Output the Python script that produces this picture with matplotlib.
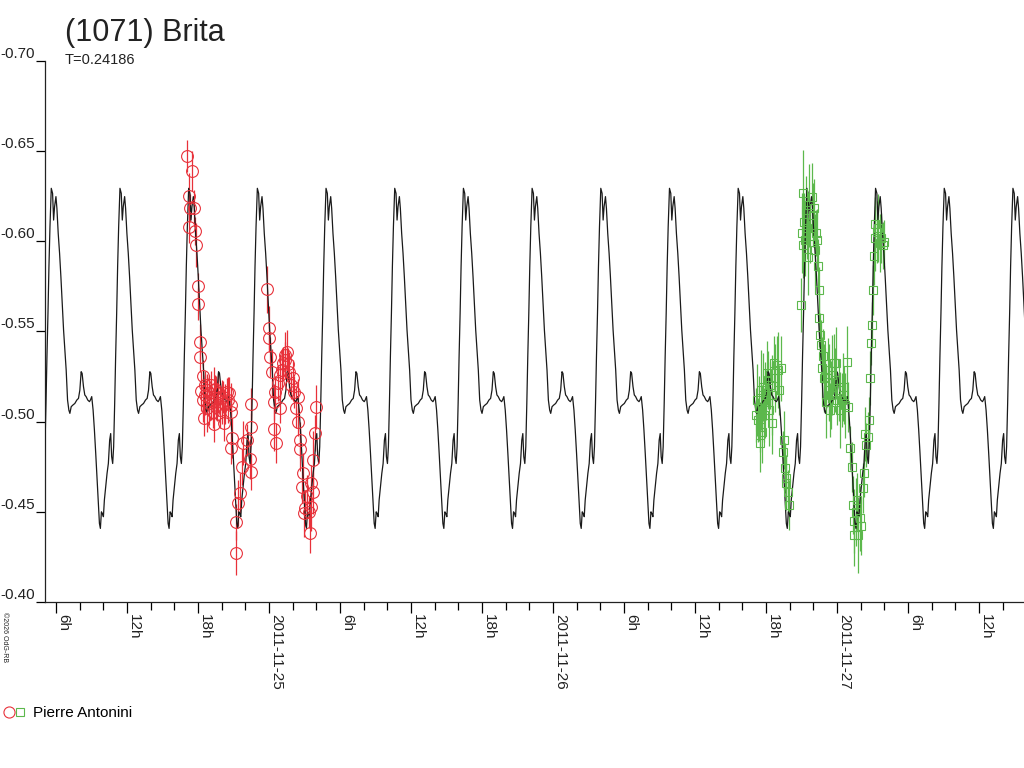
import numpy as np
import matplotlib
matplotlib.use('Agg')
import matplotlib.pyplot as plt
from matplotlib.lines import Line2D
from matplotlib.legend_handler import HandlerTuple

plt.rcParams['font.family'] = ['Liberation Sans', 'DejaVu Sans']

# time in hours since 2011-11-24 00:00 UT, magnitudes relative
period_h = 0.24186 * 24
epoch_h = 5.6

# one period of the model light curve (phase, mag)
model_phase = [0.000, 0.019, 0.034, 0.048, 0.068, 0.082, 0.101, 0.121, 0.140, 0.159,
               0.179, 0.198, 0.217, 0.237, 0.256, 0.271, 0.290, 0.314, 0.343, 0.372,
               0.396, 0.416, 0.435, 0.449, 0.469, 0.488, 0.507, 0.531, 0.556, 0.570,
               0.589, 0.609, 0.628, 0.647, 0.667, 0.686, 0.701, 0.715, 0.730, 0.744,
               0.759, 0.773, 0.792, 0.812, 0.831, 0.850, 0.865, 0.879, 0.894, 0.908,
               0.923, 0.937, 0.952, 0.966, 0.981]
model_mag = [-0.6294, -0.6266, -0.6118, -0.6192, -0.6248, -0.6183, -0.6044, -0.5933, -0.5804, -0.5656,
             -0.5508, -0.5397, -0.5286, -0.5120, -0.5064, -0.5046, -0.5083, -0.5092, -0.5101, -0.5120,
             -0.5129, -0.5175, -0.5277, -0.5268, -0.5194, -0.5148, -0.5139, -0.5120, -0.5111, -0.5120,
             -0.5139, -0.5064, -0.4954, -0.4825, -0.4677, -0.4528, -0.4436, -0.4408, -0.4500, -0.4491,
             -0.4473, -0.4565, -0.4639, -0.4713, -0.4768, -0.4898, -0.4934, -0.4806, -0.4768, -0.4861,
             -0.5101, -0.5360, -0.5601, -0.5859, -0.6081]

# session 1 (red circles)
red_t = [17.11, 17.45, 17.20, 17.32, 17.66, 17.24, 17.75, 17.83, 17.96, 18.04,
         18.13, 18.17, 18.25, 18.38, 18.42, 18.51, 18.55, 18.63, 18.72, 18.80,
         18.89, 18.97, 19.06, 19.14, 19.23, 19.31, 19.35, 19.44, 19.52, 19.61,
         19.73, 19.82, 19.90, 19.99, 20.11, 20.16, 20.28, 20.41, 20.54, 20.66,
         20.75, 20.83, 20.87, 20.83, 21.21, 21.25, 21.42, 21.55, 21.68, 21.84,
         22.10, 22.39, 22.44, 22.44, 22.52, 23.87, 23.96, 24.04, 24.08, 24.25,
         24.38, 24.38, 24.51, 24.63, 24.76, 24.89, 24.97, 25.06, 25.18, 25.31,
         25.39, 25.48, 25.61, 25.73, 25.86, 26.03, 26.15, 26.32, 26.45, 26.49,
         26.66, 26.66, 26.75, 26.87, 26.92, 27.04, 27.17, 27.34, 27.47, 27.55,
         27.59, 27.68, 27.72, 27.89, 27.97]
red_mag = [-0.6473, -0.6390, -0.6251, -0.6185, -0.6185, -0.6079, -0.6057, -0.5979, -0.5752, -0.5652,
           -0.5442, -0.5358, -0.5170, -0.5253, -0.5120, -0.5020, -0.5203, -0.5148, -0.5075, -0.5175,
           -0.5159, -0.5103, -0.5203, -0.5120, -0.5053, -0.5175, -0.4987, -0.5181, -0.5131, -0.5092,
           -0.5159, -0.5064, -0.5136, -0.5109, -0.5136, -0.4992, -0.5098, -0.5164, -0.5120, -0.5159,
           -0.5053, -0.5092, -0.4909, -0.4854, -0.4443, -0.4271, -0.4549, -0.4604, -0.4748, -0.4881,
           -0.4898, -0.4793, -0.4720, -0.4970, -0.5098, -0.5735, -0.5519, -0.5464, -0.5358, -0.5275,
           -0.5109, -0.4959, -0.5164, -0.4881, -0.5214, -0.5075, -0.5258, -0.5286, -0.5325, -0.5369,
           -0.5342, -0.5386, -0.5319, -0.5275, -0.5203, -0.5242, -0.5164, -0.5075, -0.5136, -0.4998,
           -0.4898, -0.4848, -0.4637, -0.4715, -0.4493, -0.4521, -0.4587, -0.4499, -0.4382, -0.4526,
           -0.4659, -0.4610, -0.4787, -0.4937, -0.5081]
red_err = [0.009, 0.011, 0.013, 0.008, 0.010, 0.009, 0.008, 0.012, 0.007, 0.009,
           0.010, 0.008, 0.011, 0.009, 0.012, 0.010, 0.008, 0.011, 0.013, 0.009,
           0.010, 0.012, 0.008, 0.011, 0.009, 0.013, 0.010, 0.008, 0.012, 0.009,
           0.011, 0.010, 0.008, 0.012, 0.009, 0.010, 0.011, 0.008, 0.013, 0.009,
           0.010, 0.012, 0.011, 0.009, 0.010, 0.012, 0.013, 0.011, 0.010, 0.012,
           0.009, 0.011, 0.010, 0.008, 0.009, 0.013, 0.012, 0.008, 0.011, 0.013,
           0.010, 0.012, 0.009, 0.011, 0.010, 0.008, 0.012, 0.011, 0.009, 0.013,
           0.010, 0.012, 0.009, 0.011, 0.008, 0.010, 0.009, 0.011, 0.010, 0.008,
           0.010, 0.012, 0.009, 0.011, 0.013, 0.010, 0.012, 0.009, 0.011, 0.013,
           0.010, 0.012, 0.016, 0.010, 0.012]

# session 2 (green squares)
green_t = [65.16, 65.24, 65.33, 65.41, 65.49, 65.49, 65.58, 65.62, 65.66, 65.75,
           65.83, 65.92, 66.00, 66.09, 66.17, 66.21, 66.34, 66.47, 66.51, 66.64,
           66.76, 66.89, 67.02, 67.10, 67.27, 67.40, 67.52, 67.61, 67.69, 67.73,
           67.86, 67.90, 68.92, 69.00, 69.09, 69.13, 69.21, 69.30, 69.38, 69.47,
           69.55, 69.64, 69.72, 69.85, 69.93, 70.02, 70.14, 70.23, 70.31, 70.35,
           70.44, 70.48, 70.57, 70.65, 70.69, 70.78, 70.90, 70.99, 71.11, 71.20,
           71.28, 71.33, 71.41, 71.50, 71.58, 71.71, 71.83, 71.92, 72.00, 72.13,
           72.26, 72.38, 72.51, 72.59, 72.68, 72.81, 72.93, 73.10, 73.23, 73.31,
           73.40, 73.44, 73.57, 73.65, 73.78, 73.90, 74.03, 74.16, 74.28, 74.37,
           74.49, 74.58, 74.66, 74.75, 74.83, 74.92, 75.00, 75.09, 75.17, 75.21,
           75.34, 75.47, 75.59, 75.72, 75.85, 75.97]
green_mag = [-0.5037, -0.5120, -0.5009, -0.5075, -0.4970, -0.4881, -0.5175, -0.5075, -0.4942, -0.5192,
             -0.5037, -0.5120, -0.5148, -0.5270, -0.5231, -0.5064, -0.5203, -0.4992, -0.5148, -0.5325,
             -0.5242, -0.5314, -0.5286, -0.5175, -0.5297, -0.4831, -0.4898, -0.4743, -0.4687, -0.4659,
             -0.4610, -0.4537, -0.5647, -0.6046, -0.5979, -0.6268, -0.6107, -0.6007, -0.6174, -0.6074,
             -0.5913, -0.6201, -0.6029, -0.6246, -0.6146, -0.6185, -0.5952, -0.6046, -0.6007, -0.5863,
             -0.5730, -0.5575, -0.5480, -0.5425, -0.5297, -0.5364, -0.5242, -0.5247, -0.5109, -0.5286,
             -0.5175, -0.5220, -0.5064, -0.5148, -0.5258, -0.5325, -0.5231, -0.5325, -0.5120, -0.5175,
             -0.5064, -0.5120, -0.5192, -0.5148, -0.5092, -0.5330, -0.5081, -0.4854, -0.4748, -0.4537,
             -0.4449, -0.4371, -0.4499, -0.4565, -0.4371, -0.4465, -0.4421, -0.4632, -0.4715, -0.4931,
             -0.4870, -0.4915, -0.5009, -0.5242, -0.5436, -0.5536, -0.5730, -0.5918, -0.6018, -0.6096,
             -0.6052, -0.6074, -0.5991, -0.6018, -0.5979, -0.5996]
green_err = [0.015, 0.020, 0.012, 0.018, 0.014, 0.016, 0.022, 0.013, 0.017, 0.019,
             0.015, 0.021, 0.014, 0.018, 0.016, 0.020, 0.013, 0.017, 0.022, 0.015,
             0.019, 0.016, 0.021, 0.014, 0.018, 0.012, 0.016, 0.014, 0.013, 0.015,
             0.012, 0.014, 0.015, 0.022, 0.018, 0.024, 0.016, 0.020, 0.019, 0.017,
             0.021, 0.023, 0.015, 0.019, 0.018, 0.016, 0.020, 0.013, 0.017, 0.015,
             0.013, 0.016, 0.012, 0.014, 0.017, 0.015, 0.019, 0.016, 0.020, 0.018,
             0.017, 0.021, 0.015, 0.019, 0.022, 0.016, 0.018, 0.020, 0.014, 0.017,
             0.021, 0.015, 0.019, 0.016, 0.018, 0.020, 0.014, 0.012, 0.014, 0.016,
             0.018, 0.017, 0.019, 0.015, 0.021, 0.018, 0.016, 0.014, 0.013, 0.015,
             0.012, 0.014, 0.013, 0.015, 0.012, 0.013, 0.014, 0.016, 0.018, 0.015,
             0.017, 0.019, 0.016, 0.014, 0.013, 0.012]

observer = 'Pierre Antonini'
red = '#e8313a'
green = '#5cb84c'

x_min, x_max = 5.07, 87.8

fig = plt.figure(figsize=(10.24, 7.68), dpi=100)
ax = fig.add_axes([45 / 1024, 166 / 768, 979 / 1024, 541 / 768])

# model curve repeated over the whole time span
ph = np.array(model_phase)
mg = np.array(model_mag)
n0 = int(np.floor((x_min - epoch_h) / period_h)) - 1
n1 = int(np.ceil((x_max - epoch_h) / period_h)) + 1
curve_t = np.concatenate([epoch_h + (k + ph) * period_h for k in range(n0, n1)])
curve_m = np.tile(mg, n1 - n0)
ax.plot(curve_t, curve_m, color='#1a1a1a', lw=0.9, zorder=3)

ax.errorbar(red_t, red_mag, yerr=red_err, fmt='none', ecolor=red, elinewidth=0.9, zorder=2)
ax.plot(red_t, red_mag, 'o', ms=8.5, mfc='none', mec=red, mew=0.8, zorder=4)
ax.errorbar(green_t, green_mag, yerr=green_err, fmt='none', ecolor=green, elinewidth=0.9, zorder=2)
ax.plot(green_t, green_mag, 's', ms=5.8, mfc='none', mec=green, mew=0.8, zorder=4)

ax.set_xlim(x_min, x_max)
ax.set_ylim(-0.40, -0.70)

yt = [-0.70, -0.65, -0.60, -0.55, -0.50, -0.45, -0.40]
ax.set_yticks(yt)
ax.set_yticklabels([f'{v:.2f}' for v in yt], fontsize=11, color='#222222')
for lab in ax.get_yticklabels():
    lab.set_va('bottom')
ax.tick_params(axis='y', length=6.5, width=0.9, pad=0.5, direction='out')

xt = np.arange(6, 85, 6)
xlabels = []
for h in xt:
    if h % 24 == 0:
        xlabels.append(f'2011-11-{24 + h // 24}')
    else:
        xlabels.append(f'{h % 24}h')
ax.set_xticks(xt)
ax.set_xticklabels(xlabels, rotation=270, ha='left', va='top', fontsize=11, color='#222222')
ax.set_xticks(np.arange(6, 88, 2), minor=True)
ax.tick_params(axis='x', which='major', length=8, width=0.9, pad=0.5)
ax.tick_params(axis='x', which='minor', length=5.8, width=0.9)

for s in ['top', 'right']:
    ax.spines[s].set_visible(False)
for s in ['left', 'bottom']:
    ax.spines[s].set_linewidth(0.9)
    ax.spines[s].set_color('#222222')

fig.text(65 / 1024, 1 - 41 / 768, '(1071) Brita', fontsize=22, color='#222222', va='baseline')
fig.text(65 / 1024, 1 - 64 / 768, 'T=0.24186', fontsize=10.5, color='#222222', va='baseline')
fig.text(1 / 1024, 1 - 612 / 768, '\u00a92026 OdG-RB', fontsize=5, rotation=270,
         ha='left', va='top', color='#222222')

h1 = Line2D([], [], marker='o', ms=8, mfc='none', mec=red, mew=0.8, ls='')
h2 = Line2D([], [], marker='s', ms=5.5, mfc='none', mec=green, mew=0.8, ls='')
fig.legend([(h1, h2)], [observer], handler_map={tuple: HandlerTuple(ndivide=None, pad=0.1)},
           loc='center left', bbox_to_anchor=(4 / 1024, 1 - 713 / 768), frameon=False,
           handlelength=1.4, handletextpad=0.5, borderpad=0, borderaxespad=0,
           prop={'size': 11})

fig.savefig('out.png', dpi=100)
